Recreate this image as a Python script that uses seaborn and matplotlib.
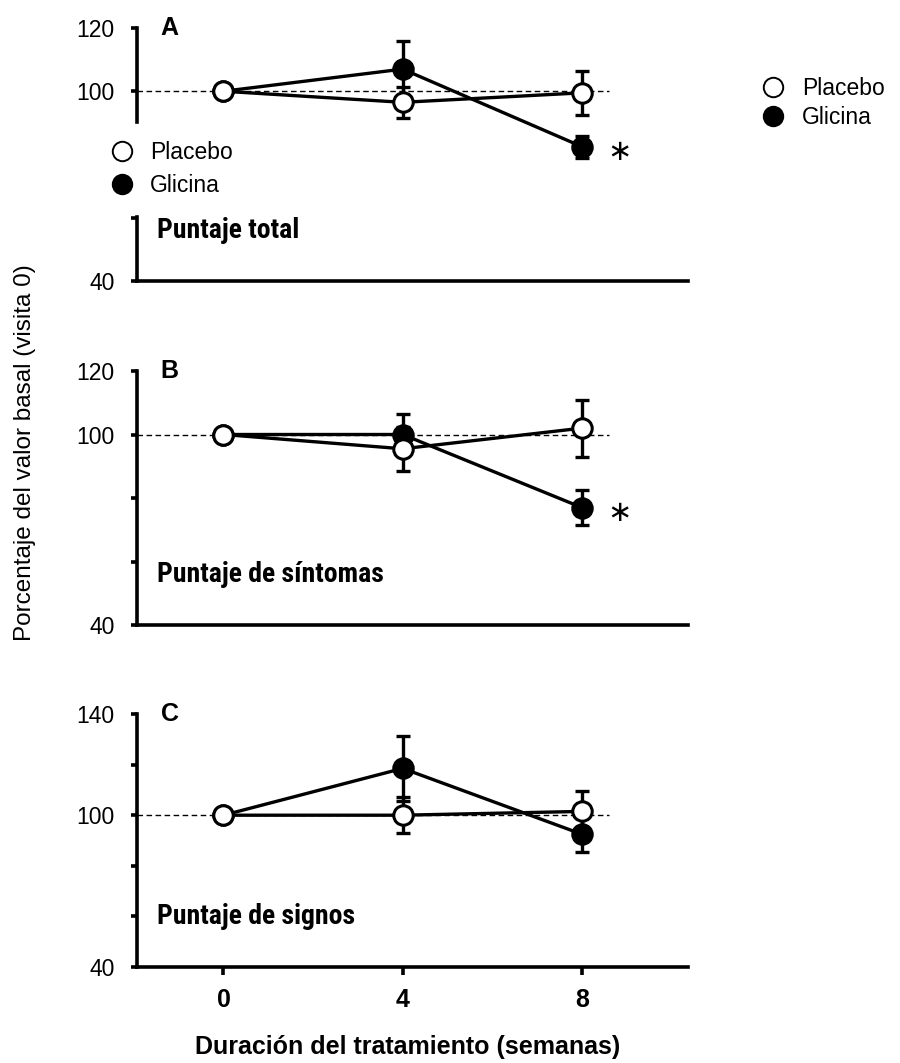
import numpy as np
import pandas as pd
import matplotlib
matplotlib.use("Agg")
import matplotlib.pyplot as plt
import seaborn as sns
from matplotlib.lines import Line2D
from matplotlib import font_manager
from matplotlib.font_manager import FontProperties

# ---------------- data ----------------
weeks = [0, 4, 8]
week_labels = ["0", "4", "8"]

a_placebo = [100, 96.5, 99.5]
a_placebo_se = [0, 5, 7]
a_glicina = [100, 107, 82.5]
a_glicina_se = [0, 9, 3.5]

b_placebo = [100, 95.5, 102]
b_placebo_se = [0, 7, 9]
b_glicina = [100, 100, 77]
b_glicina_se = [0, 6.5, 5.5]

c_placebo = [100, 100, 101.5]
c_placebo_se = [0, 7, 8]
c_glicina = [100, 118.5, 92.5]
c_glicina_se = [0, 13, 7]

panel_letters = ["A", "B", "C"]
panel_titles = ["Puntaje total", "Puntaje de síntomas", "Puntaje de signos"]
ylims = [(40, 120), (40, 120), (40, 140)]
yticks_ab = [40, 60, 80, 100, 120]
yticklabels_ab = ["40", "", "", "100", "120"]
yticks_c = [40, 60, 80, 100, 120, 140]
yticklabels_c = ["40", "", "", "100", "", "140"]
significant = [True, True, False]
series_names = ["Placebo", "Glicina"]
xlabel = "Duración del tratamiento (semanas)"
ylabel = "Porcentaje del valor basal (visita 0)"

# ---------------- style ----------------
sns.set_theme(style="ticks")
plt.rcParams["font.family"] = ["Liberation Sans", "DejaVu Sans"]
for k in ["text.color", "axes.labelcolor", "xtick.color", "ytick.color",
          "axes.edgecolor"]:
    plt.rcParams[k] = "black"

# find a condensed bold font if one is installed
def pick_condensed():
    prefs = ["Liberation Sans Narrow", "Arial Narrow", "Roboto Condensed",
             "DejaVu Sans Condensed", "Open Sans Condensed", "Noto Sans Condensed"]
    cands = []
    for f in font_manager.fontManager.ttflist:
        nm = f.name
        st = str(f.stretch).lower()
        fn = f.fname.lower()
        cond = ("narrow" in nm.lower() or "condensed" in nm.lower()
                or "condensed" in st or "narrow" in fn or "condensed" in fn)
        if not cond:
            continue
        w = f.weight
        bold = (w in ("bold", "heavy", "black", "semibold", "demibold") or
                (isinstance(w, (int, float)) and w >= 600) or "bold" in fn)
        if not bold or "italic" in fn or "oblique" in fn:
            continue
        rank = len(prefs)
        for i, p in enumerate(prefs):
            if p.lower() in nm.lower() or p.lower().replace(" ", "") in fn.replace("-", ""):
                rank = i
                break
        cands.append((rank, f.fname))
    if cands:
        cands.sort()
        return FontProperties(fname=cands[0][1]), True
    return FontProperties(family="Roboto", weight="bold"), False

COND_FP, COND_OK = pick_condensed()

LW = 2.4
SPW = 2.6
MS = 14
MEW = 2.2
FS = 16.5

fig = plt.figure(figsize=(9, 10.63), dpi=100)
W, H = 900, 1063
x_left, x_right = 137, 688
tops = [28, 371, 714]
bottoms = [281, 625, 967]
XLIM = (-1.93, 10.37)

data = [
    (a_placebo, a_placebo_se, a_glicina, a_glicina_se),
    (b_placebo, b_placebo_se, b_glicina, b_glicina_se),
    (c_placebo, c_placebo_se, c_glicina, c_glicina_se),
]

axes = []
for i in range(3):
    pl, pl_se, gl, gl_se = data[i]
    ax = fig.add_axes([x_left / W, 1 - bottoms[i] / H,
                       (x_right - x_left) / W, (bottoms[i] - tops[i]) / H])
    axes.append(ax)
    ax.set_facecolor("white")
    ax.hlines(100, XLIM[0], 8.6, colors="black", linestyles=(0, (4, 2.5)),
              lw=1.0, zorder=1)

    # Glicina (filled)
    df_g = pd.DataFrame({"semana": weeks, "valor": gl})
    ax.errorbar(weeks, gl, yerr=gl_se, fmt="none", ecolor="black",
                elinewidth=LW, capsize=5, capthick=LW, zorder=2.8)
    sns.lineplot(data=df_g, x="semana", y="valor", ax=ax, color="black",
                 lw=LW, marker="o", markersize=MS, markerfacecolor="black",
                 markeredgecolor="black", markeredgewidth=MEW, zorder=3,
                 errorbar=None)
    # Placebo (open)
    df_p = pd.DataFrame({"semana": weeks, "valor": pl})
    ax.errorbar(weeks, pl, yerr=pl_se, fmt="none", ecolor="black",
                elinewidth=LW, capsize=5, capthick=LW, zorder=3.8)
    sns.lineplot(data=df_p, x="semana", y="valor", ax=ax, color="black",
                 lw=LW, marker="o", markersize=MS, markerfacecolor="white",
                 markeredgecolor="black", markeredgewidth=MEW, zorder=4,
                 errorbar=None)

    ax.set_xlim(*XLIM)
    ax.set_ylim(*ylims[i])
    if i < 2:
        ax.set_yticks(yticks_ab)
        ax.set_yticklabels(yticklabels_ab)
    else:
        ax.set_yticks(yticks_c)
        ax.set_yticklabels(yticklabels_c)
    ax.set_xlabel("")
    ax.set_ylabel("")
    sns.despine(ax=ax)
    for s in ["left", "bottom"]:
        ax.spines[s].set_linewidth(SPW)
        ax.spines[s].set_color("black")
    ax.tick_params(axis="y", direction="out", length=4, width=SPW,
                   pad=12, labelsize=FS, colors="black")
    if i < 2:
        ax.set_xticks(weeks)
        ax.tick_params(axis="x", length=0, labelbottom=False)
    else:
        ax.set_xticks(weeks)
        ax.set_xticklabels(week_labels, fontweight="bold")
        ax.tick_params(axis="x", direction="out", length=5.8, width=SPW,
                       pad=9, labelsize=18, colors="black")

    ax.text(0.043, 1.0, panel_letters[i], transform=ax.transAxes,
            fontsize=18, fontweight="bold", va="center", ha="left")
    fp = COND_FP.copy()
    fp.set_size(20 if COND_OK else 18)
    ax.text(0.036, 0.2, panel_titles[i], transform=ax.transAxes,
            fontproperties=fp, va="center", ha="left")
    if significant[i]:
        ax.text(8.85, gl[2] - 1.6, "\u2217", fontsize=21, va="center",
                ha="center", family=["DejaVu Sans"])

# legend handles
def handles(edge):
    return [
        Line2D([], [], ls="none", marker="o", markersize=MS,
               markerfacecolor="white", markeredgecolor="black",
               markeredgewidth=edge),
        Line2D([], [], ls="none", marker="o", markersize=MS,
               markerfacecolor="black", markeredgecolor="black",
               markeredgewidth=edge),
    ]

leg = axes[0].legend(handles(1.4), series_names, loc="upper left",
                     bbox_to_anchor=(93.7 / W, 1 - 124 / H),
                     bbox_transform=fig.transFigure, frameon=True,
                     facecolor="white", edgecolor="white", framealpha=1,
                     fancybox=False, borderpad=0.75, handlelength=1.0,
                     handletextpad=0.7, labelspacing=0.42, fontsize=FS,
                     borderaxespad=0)
leg.set_zorder(10)

fig.legend(handles(1.4), series_names, loc="upper left",
           bbox_to_anchor=(762 / W, 1 - 77 / H),
           bbox_transform=fig.transFigure, frameon=False, borderpad=0,
           handlelength=1.0, handletextpad=0.74, labelspacing=0.25,
           fontsize=FS, borderaxespad=0)

fig.text(25 / W, 1 - 453 / H, ylabel, rotation=90, fontsize=17.5,
         va="center", ha="center")
fig.text(408 / W, 1 - 1047 / H, xlabel, fontsize=18, fontweight="bold",
         va="center", ha="center")

fig.savefig("out.png", dpi=100, facecolor="white")
